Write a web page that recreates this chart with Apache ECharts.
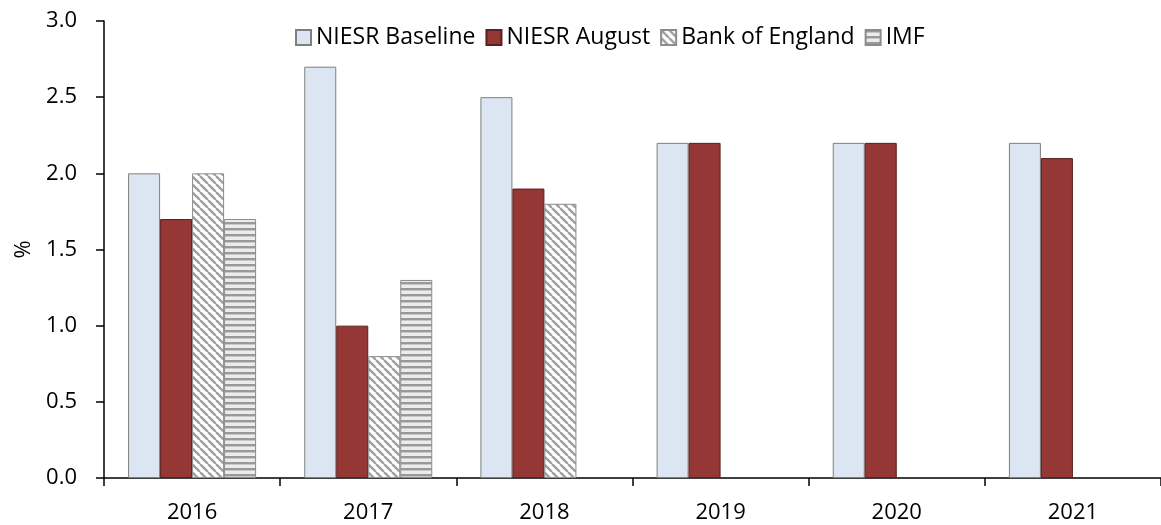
<!DOCTYPE html>
<html><head><meta charset="utf-8">
<script src="https://cdn.jsdelivr.net/npm/echarts@6/dist/echarts.min.js"></script>
<style>html,body{margin:0;padding:0;background:#fff}#c{width:1161px;height:525px}</style>
</head><body><div id="c"></div>
<script>
const categories = ['2016','2017','2018','2019','2020','2021'];
const niesrBaseline = [2.0, 2.7, 2.5, 2.2, 2.2, 2.2];
const niesrAugust = [1.7, 1.0, 1.9, 2.2, 2.2, 2.1];
const bankOfEngland = [2.0, 0.8, 1.8, null, null, null];
const imf = [1.7, 1.3, null, null, null, null];
const yTicks = { min: 0, max: 3, interval: 0.5 };

function diagPattern(){
  const c = document.createElement('canvas'); c.width = 8; c.height = 8;
  const g = c.getContext('2d');
  g.fillStyle = '#ffffff'; g.fillRect(0,0,8,8);
  g.strokeStyle = '#a0a0a0'; g.lineWidth = 2.4;
  for (let k=-8;k<=8;k+=8){ g.beginPath(); g.moveTo(k,0); g.lineTo(k+8,8); g.stroke(); }
  return c;
}
function horizPattern(){
  const c = document.createElement('canvas'); c.width = 4; c.height = 6;
  const g = c.getContext('2d');
  g.fillStyle = '#ececec'; g.fillRect(0,0,4,6);
  g.fillStyle = '#999999'; g.fillRect(0,0,4,2);
  g.fillStyle = '#c8c8c8'; g.fillRect(0,2,4,1);
  return c;
}
const font = 'Open Sans';
const chart = echarts.init(document.getElementById('c'), null, {renderer:'canvas'});
const base = { type:'bar', barWidth:32, barGap:'0%', barCategoryGap:'27.7%' };
chart.setOption({
  animation:false,
  textStyle:{ fontFamily: font, color:'#000' },
  legend:{
    top:21, left:290, itemWidth:15, itemHeight:15, itemGap:10, icon:'rect',
    textStyle:{ fontSize:23, fontFamily:font, color:'#000' },
    data:['NIESR Baseline','NIESR August','Bank of England','IMF']
  },
  grid:{ left:104, width:1062, top:21, bottom:47 },
  xAxis:{
    type:'category', data:categories,
    axisLine:{ lineStyle:{ color:'#000', width:1.5 } },
    axisTick:{ show:true, length:8, lineStyle:{ color:'#000', width:1.5 } },
    axisLabel:{ fontSize:22, color:'#000', margin:24, fontFamily:font }
  },
  yAxis:{
    type:'value', min:yTicks.min, max:yTicks.max, interval:yTicks.interval,
    name:'%', nameLocation:'middle', nameGap:69, nameRotate:90,
    nameTextStyle:{ fontSize:22, color:'#000', fontFamily:font },
    splitLine:{ show:false },
    axisLine:{ show:true, lineStyle:{ color:'#000', width:1.5 } },
    axisTick:{ show:true, length:8, lineStyle:{ color:'#000', width:1.5 } },
    axisLabel:{ fontSize:22, color:'#000', margin:27, fontFamily:font, formatter: v => v.toFixed(1) }
  },
  series:[
    Object.assign({ name:'NIESR Baseline', data:niesrBaseline,
      itemStyle:{ color:'#dce6f2', borderColor:'#7f7f7f', borderWidth:1 } }, base),
    Object.assign({ name:'NIESR August', data:niesrAugust,
      itemStyle:{ color:'#953735', borderColor:'#5a1f1e', borderWidth:1 } }, base),
    Object.assign({ name:'Bank of England', data:bankOfEngland,
      itemStyle:{ color:{ image: diagPattern(), repeat:'repeat' }, borderColor:'#8c8c8c', borderWidth:1 } }, base),
    Object.assign({ name:'IMF', data:imf,
      itemStyle:{ color:{ image: horizPattern(), repeat:'repeat' }, borderColor:'#8c8c8c', borderWidth:1 } }, base)
  ]
});
</script></body></html>
